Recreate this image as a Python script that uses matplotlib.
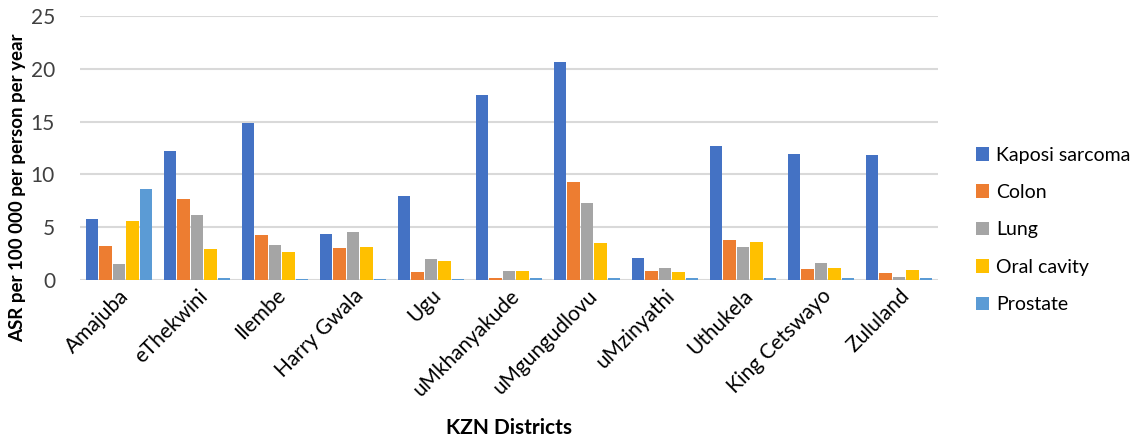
import numpy as np
import matplotlib
matplotlib.use('Agg')
import matplotlib.pyplot as plt

plt.rcParams['font.family'] = ['Lato', 'DejaVu Sans']

districts = ['Amajuba', 'eThekwini', 'Ilembe', 'Harry Gwala', 'Ugu', 'uMkhanyakude',
             'uMgungudlovu', 'uMzinyathi', 'Uthukela', 'King Cetswayo', 'Zululand']

kaposi   = [5.8, 12.2, 14.85, 4.35, 7.95, 17.5, 20.6, 2.08, 12.68, 11.9, 11.8]
colon    = [3.2, 7.66, 4.26, 3.0, 0.76, 0.2, 9.27, 0.85, 3.78, 1.04, 0.66]
lung     = [1.5, 6.15, 3.3, 4.55, 1.99, 0.85, 7.28, 1.13, 3.12, 1.6, 0.28]
oral     = [5.6, 2.93, 2.65, 3.1, 1.8, 0.85, 3.5, 0.76, 3.6, 1.13, 0.95]
prostate = [8.6, 0.2, 0.05, 0.05, 0.05, 0.2, 0.2, 0.2, 0.2, 0.2, 0.2]

series = [('Kaposi sarcoma', kaposi, '#4472C4'),
          ('Colon', colon, '#ED7D31'),
          ('Lung', lung, '#A5A5A5'),
          ('Oral cavity', oral, '#FFC000'),
          ('Prostate', prostate, '#5B9BD5')]

fig = plt.figure(figsize=(11.34, 4.41), dpi=100)
ax = fig.add_axes([80 / 1134, 1 - 280 / 441, 858 / 1134, 264 / 441])

x = np.arange(len(districts))
step = 0.174
for i, (name, vals, col) in enumerate(series):
    ax.bar(x + (i - 2) * step, vals, width=step - 0.015, color=col, label=name, zorder=3)

ax.set_xlim(-0.5, len(districts) - 0.5)
ax.set_ylim(0, 25)
ax.set_yticks(range(0, 26, 5))
ax.yaxis.grid(True, color='#D9D9D9', linewidth=1.5, zorder=0)
for s in ax.spines.values():
    s.set_visible(False)
ax.tick_params(axis='both', length=0, labelsize=15, colors='#404040')
ax.tick_params(axis='y', pad=18)
ax.tick_params(axis='x', pad=4)
ax.set_xticks(x)
ax.set_xticklabels(districts, rotation=45, ha='right', rotation_mode='anchor', color='black')

# y label placed by hand, it sits lower than the axes centre
fig.text(18 / 1134, 1 - 188 / 441, 'ASR per 100 000 per person per year', fontsize=13.5,
         fontweight='bold', rotation=90, ha='center', va='center')
fig.text(509 / 1134, 1 - 428 / 441, 'KZN Districts', fontsize=15, fontweight='bold',
         ha='center', va='center')

ax.legend(loc='center left', bbox_to_anchor=(1.044, 0.19), frameon=False, fontsize=14,
          handlelength=0.7, handleheight=0.7, handletextpad=0.35, labelspacing=1.05,
          borderpad=0, borderaxespad=0)

fig.savefig('out.png', dpi=100)
